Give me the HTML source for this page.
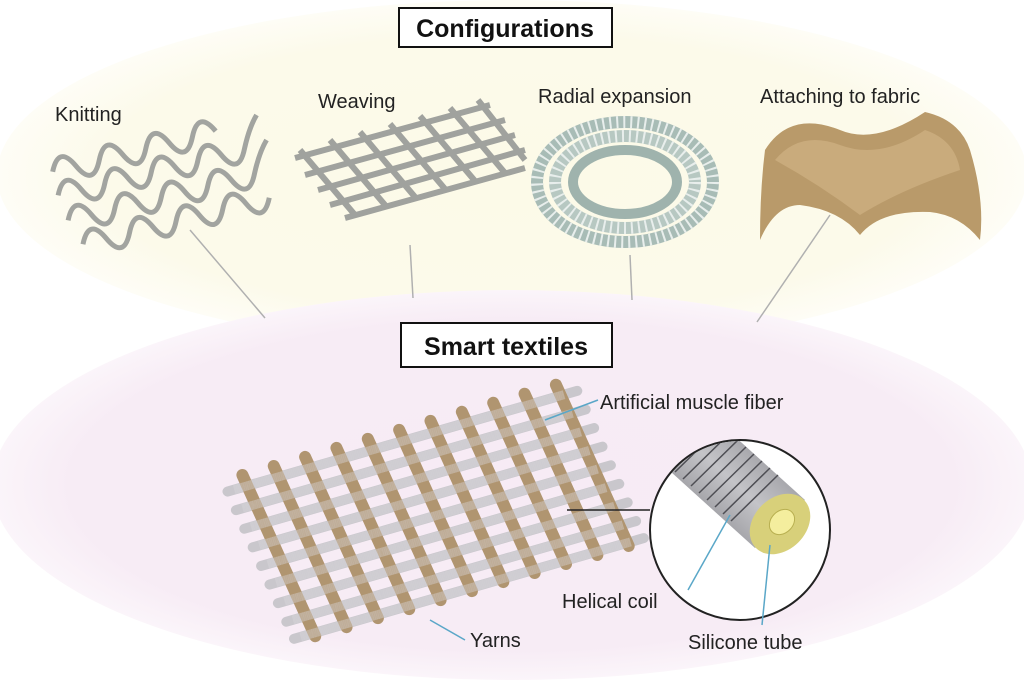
<!DOCTYPE html>
<html><head><meta charset="utf-8"><style>
body{margin:0;background:#fff;}
svg{display:block;font-family:"Liberation Sans",sans-serif;}
</style></head><body>
<svg width="1024" height="683" viewBox="0 0 1024 683" xmlns="http://www.w3.org/2000/svg">
<defs>
<radialGradient id="gy" cx="0.5" cy="0.5" r="0.5"><stop offset="0" stop-color="#fcfae8"/><stop offset="0.8" stop-color="#fcfaea"/><stop offset="1" stop-color="#fefdf6"/></radialGradient>
<radialGradient id="gp" cx="0.5" cy="0.5" r="0.5"><stop offset="0" stop-color="#f7ebf5"/><stop offset="0.85" stop-color="#f7ecf5"/><stop offset="1" stop-color="#fbf5fa"/></radialGradient>
<linearGradient id="coil" x1="0" y1="1" x2="1" y2="0"><stop offset="0" stop-color="#6a6a70"/><stop offset="0.5" stop-color="#c4c4c8"/><stop offset="1" stop-color="#707076"/></linearGradient>
<clipPath id="cc"><circle cx="740" cy="530" r="89"/></clipPath>
</defs>
<ellipse cx="512" cy="175" rx="515" ry="175" fill="url(#gy)"/>
<ellipse cx="512" cy="485" rx="520" ry="195" fill="url(#gp)"/>
<g stroke="#b0b0b0" stroke-width="1.5">
<line x1="190" y1="230" x2="265" y2="318"/><line x1="410" y1="245" x2="413" y2="298"/>
<line x1="630" y1="255" x2="632" y2="300"/><line x1="830" y1="215" x2="757" y2="322"/>
</g>
<rect x="399" y="8" width="213" height="39" fill="#fff" stroke="#111" stroke-width="2"/>
<text x="505" y="37" font-size="25" font-weight="bold" text-anchor="middle" fill="#111">Configurations</text>
<rect x="401" y="323" width="211" height="44" fill="#fff" stroke="#111" stroke-width="2"/>
<text x="506" y="355" font-size="25" font-weight="bold" text-anchor="middle" fill="#111">Smart textiles</text>
<g font-size="20" fill="#222">
<text x="55" y="121">Knitting</text><text x="318" y="108">Weaving</text>
<text x="538" y="103">Radial expansion</text><text x="760" y="103">Attaching to fabric</text>
<text x="600" y="409">Artificial muscle fiber</text><text x="562" y="608">Helical coil</text>
<text x="688" y="649">Silicone tube</text><text x="470" y="647">Yarns</text>
</g>
<g fill="none" stroke="#a2a4a0" stroke-width="5">
<path d="M55 170 q12 -25 24 0 q12 25 24 0 q12 -25 24 0 q12 25 24 0 q12 -25 24 0 q12 25 24 0 q12 -25 24 0 q12 25 24 0 q10 -20 20 -30" transform="rotate(-14 160 170)"/>
<path d="M65 195 q12 -25 24 0 q12 25 24 0 q12 -25 24 0 q12 25 24 0 q12 -25 24 0 q12 25 24 0 q12 -25 24 0 q12 25 24 0 q10 -20 20 -30" transform="rotate(-14 170 195)"/>
<path d="M80 220 q12 -25 24 0 q12 25 24 0 q12 -25 24 0 q12 25 24 0 q12 -25 24 0 q12 25 24 0 q12 -25 24 0 q12 25 24 0" transform="rotate(-14 180 220)"/>
<path d="M50 150 q12 -25 24 0 q12 25 24 0 q12 -25 24 0 q12 25 24 0 q12 -25 24 0 q12 25 24 0 q12 -25 24 0" transform="rotate(-14 140 150)"/>
</g>
<g fill="none" stroke="#a0a29e" stroke-width="6">
<path d="M295 158 L490 105 M305 175 L505 120 M318 190 L515 135 M330 205 L525 150 M345 218 L525 168 M300 150 L355 215 M330 140 L385 205 M360 132 L415 197 M390 124 L445 189 M420 116 L475 181 M450 108 L505 173 M478 100 L525 160"/>
</g>
<ellipse cx="625" cy="182" rx="88" ry="60" fill="none" stroke="#a8bcb6" stroke-width="12"/>
<ellipse cx="625" cy="182" rx="70" ry="46" fill="none" stroke="#b7c8c2" stroke-width="12"/>
<ellipse cx="625" cy="182" rx="52" ry="32" fill="none" stroke="#9fb3ad" stroke-width="10"/>
<ellipse cx="625" cy="182" rx="88" ry="60" fill="none" stroke="#e8eeec" stroke-width="12" stroke-dasharray="2 5"/>
<ellipse cx="625" cy="182" rx="70" ry="46" fill="none" stroke="#e8eeec" stroke-width="12" stroke-dasharray="2 5"/>
<path d="M765 150 Q790 110 840 130 Q875 145 925 112 Q960 120 970 150 Q985 200 980 240 Q960 215 930 212 Q880 210 860 235 Q840 210 800 205 Q775 205 760 240 Q760 190 765 150Z" fill="#b99a6a"/>
<path d="M775 160 Q800 130 840 145 Q880 160 925 130 Q955 140 960 170 Q900 190 860 215 Q820 185 775 160Z" fill="#c9ab7c"/>
<g transform="matrix(330,-95,70,155,232,485)">
<g stroke="#c9c7cc" stroke-width="10" fill="none" stroke-linecap="round">
<path vector-effect="non-scaling-stroke" d="M-0.02 0.03 H1.04 M-0.02 0.15 H1.04 M-0.02 0.27 H1.04 M-0.02 0.39 H1.04 M-0.02 0.51 H1.04 M-0.02 0.63 H1.04 M-0.02 0.75 H1.04 M-0.02 0.87 H1.04 M-0.02 0.98 H1.04"/>
</g>
<g stroke="#b09570" stroke-width="12" fill="none" stroke-linecap="round">
<path vector-effect="non-scaling-stroke" d="M0.04 -0.04 V1 M0.135 -0.04 V1 M0.23 -0.04 V1 M0.325 -0.04 V1 M0.42 -0.04 V1 M0.515 -0.04 V1 M0.61 -0.04 V1 M0.705 -0.04 V1 M0.8 -0.04 V1 M0.895 -0.04 V1 M0.99 -0.04 V1"/>
</g>
<g stroke="#d9d7dc" stroke-width="9" fill="none" stroke-dasharray="0.04 0.055" stroke-dashoffset="-0.02">
<path vector-effect="non-scaling-stroke" d="M0 0.15 H1 M0 0.39 H1 M0 0.63 H1 M0 0.87 H1"/>
</g>
<g stroke="#d9d7dc" stroke-width="9" fill="none" stroke-dasharray="0.04 0.055" stroke-dashoffset="-0.065">
<path vector-effect="non-scaling-stroke" d="M0 0.03 H1 M0 0.27 H1 M0 0.51 H1 M0 0.75 H1 M0 0.98 H1"/>
</g>
</g>
<line x1="567" y1="510" x2="650" y2="510" stroke="#222" stroke-width="1.5"/>
<circle cx="740" cy="530" r="90" fill="#fff" stroke="#222" stroke-width="2"/>
<g clip-path="url(#cc)">
<path d="M700 405 L805 500 L755 548 L650 453Z" fill="url(#coil)"/>
<g stroke="#4e4e54" stroke-width="1.5" fill="none">
<path d="M706 412 l-47 46 M714 419 l-47 46 M722 426 l-47 46 M730 433 l-47 46 M738 440 l-47 46 M746 447 l-47 46 M754 454 l-47 46 M762 461 l-47 46 M770 468 l-47 46 M778 475 l-47 46"/>
</g>
<ellipse cx="780" cy="524" rx="34" ry="26" transform="rotate(-45 780 524)" fill="#d8d07a"/>
<ellipse cx="782" cy="522" rx="14" ry="11" transform="rotate(-45 782 522)" fill="#f4ee9e" stroke="#b8af50"/>
</g>
<g stroke="#5aa7c8" stroke-width="1.5">
<line x1="545" y1="420" x2="598" y2="400"/><line x1="430" y1="620" x2="465" y2="640"/>
<line x1="730" y1="515" x2="688" y2="590"/><line x1="770" y1="545" x2="762" y2="625"/>
</g>
</svg>
</body></html>
